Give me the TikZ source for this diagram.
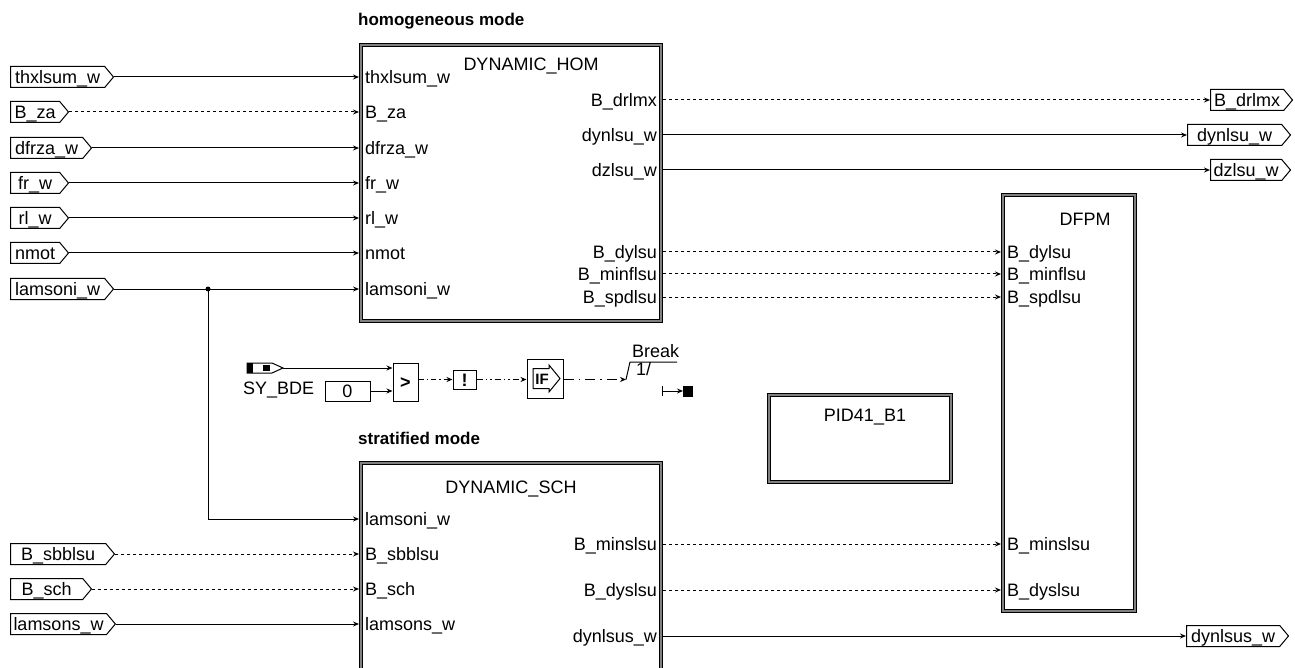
\documentclass[tikz,border=0pt]{standalone}
\usepackage{fontspec}
\setmainfont{Liberation Sans}
\usetikzlibrary{shapes.symbols,arrows.meta}
\definecolor{band}{RGB}{128,128,128}
\begin{document}
\begin{tikzpicture}[x=1pt,y=-1pt,
  txt/.style={font=\fontsize{18}{20}\selectfont, inner sep=0pt, text height=13pt, text depth=0pt},
  ttl/.style={font=\bfseries\fontsize{17}{20}\selectfont, inner sep=0pt},
  tag/.style={txt, draw, line width=1pt, signal, signal to=east, signal pointer angle=100,
              minimum height=21pt, inner xsep=3pt, inner ysep=0pt, anchor=west, fill=white},
  blk/.style={draw, line width=1pt, double=band, double distance=2pt, fill=white,
              outer sep=2pt, anchor=north west, inner sep=0pt},
  box/.style={draw, line width=1pt, fill=white, inner sep=0pt},
  wire/.style={line width=1pt},
  sig/.style={line width=1pt, -{Stealth[length=6pt,width=5pt]}},
  bsig/.style={sig, dash pattern=on 3pt off 3pt},
  dd1/.style={sig, dash pattern=on 5pt off 3pt on 1.5pt off 3pt},
  dd2/.style={sig, dash pattern=on 6pt off 3pt on 1.5pt off 3pt on 1.5pt off 3pt},
  dd3/.style={sig, dash pattern=on 10pt off 5pt on 1.5pt off 5pt},
]
\useasboundingbox (0,0) rectangle (1295,668);
\clip (0,0) rectangle (1295,668);

% ---------- blocks ----------
\node[blk, minimum width=300pt, minimum height=276pt] (hom) at (359,43) {};
\node[blk, minimum width=300pt, minimum height=260pt] (sch) at (359,461) {};
\node[blk, minimum width=132pt, minimum height=416pt] (dfpm) at (1001,193) {};
\node[blk, minimum width=182pt, minimum height=87pt] (pid) at (767,393) {};

\node[txt] (homt) at (531,64) {DYNAMIC\_HOM};
\node[txt] (scht) at (511,487) {DYNAMIC\_SCH};
\node[txt] (dfpmt) at (1085,219) {DFPM};
\node[txt] (pidt) at (865,415) {PID41\_B1};

\node[ttl, anchor=base west] (thom) at (358,26) {homogeneous mode};
\node[ttl, anchor=base west] (tsch) at (358,444) {stratified mode};

% ---------- HOM labels ----------
\node[txt, anchor=west] (hl1) at (365,77) {thxlsum\_w};
\node[txt, anchor=west] (hl2) at (365,112) {B\_za};
\node[txt, anchor=west] (hl3) at (365,148) {dfrza\_w};
\node[txt, anchor=west] (hl4) at (365,183) {fr\_w};
\node[txt, anchor=west] (hl5) at (365,218) {rl\_w};
\node[txt, anchor=west] (hl6) at (365,253) {nmot};
\node[txt, anchor=west] (hl7) at (365,289) {lamsoni\_w};
\node[txt, anchor=east] (ho1) at (657,100) {B\_drlmx};
\node[txt, anchor=east] (ho2) at (657,135) {dynlsu\_w};
\node[txt, anchor=east] (ho3) at (657,170) {dzlsu\_w};
\node[txt, anchor=east] (ho4) at (657,252) {B\_dylsu};
\node[txt, anchor=east] (ho5) at (657,274) {B\_minflsu};
\node[txt, anchor=east] (ho6) at (657,297) {B\_spdlsu};

% ---------- SCH labels ----------
\node[txt, anchor=west] (sl1) at (365,519) {lamsoni\_w};
\node[txt, anchor=west] (sl2) at (365,554) {B\_sbblsu};
\node[txt, anchor=west] (sl3) at (365,589) {B\_sch};
\node[txt, anchor=west] (sl4) at (365,624) {lamsons\_w};
\node[txt, anchor=east] (so1) at (657,544) {B\_minslsu};
\node[txt, anchor=east] (so2) at (657,590) {B\_dyslsu};
\node[txt, anchor=east] (so3) at (657,636) {dynlsus\_w};

% ---------- DFPM labels ----------
\node[txt, anchor=west] (d1) at (1007,252) {B\_dylsu};
\node[txt, anchor=west] (d2) at (1007,274) {B\_minflsu};
\node[txt, anchor=west] (d3) at (1007,297) {B\_spdlsu};
\node[txt, anchor=west] (d4) at (1007,544) {B\_minslsu};
\node[txt, anchor=west] (d5) at (1007,590) {B\_dyslsu};

% ---------- input tags ----------
\node[tag, minimum width=103pt] (i1) at (10,77) {thxlsum\_w};
\node[tag, minimum width=58pt] (i2) at (10,112) {B\_za};
\node[tag, minimum width=81pt] (i3) at (10,148) {dfrza\_w};
\node[tag, minimum width=58pt] (i4) at (10,183) {fr\_w};
\node[tag, minimum width=58pt] (i5) at (10,218) {rl\_w};
\node[tag, minimum width=58pt] (i6) at (10,253) {nmot};
\node[tag, minimum width=103pt] (i7) at (10,289) {lamsoni\_w};
\node[tag, minimum width=104pt] (i8) at (10,554) {B\_sbblsu};
\node[tag, minimum width=81pt] (i9) at (10,589) {B\_sch};
\node[tag, minimum width=104pt] (i10) at (10,624) {lamsons\_w};

% ---------- output tags ----------
\node[tag, minimum width=82pt] (o1) at (1210,100) {B\_drlmx};
\node[tag, minimum width=103pt] (o2) at (1187,135) {dynlsu\_w};
\node[tag, minimum width=80pt] (o3) at (1210,170) {dzlsu\_w};
\node[tag, minimum width=102pt] (o4) at (1186,636) {dynlsus\_w};

% ---------- HOM inputs ----------
\draw[sig]  (i1.east) -- (i1.east -| hom.west);
\draw[bsig] (i2.east) -- (i2.east -| hom.west);
\draw[sig]  (i3.east) -- (i3.east -| hom.west);
\draw[sig]  (i4.east) -- (i4.east -| hom.west);
\draw[sig]  (i5.east) -- (i5.east -| hom.west);
\draw[sig]  (i6.east) -- (i6.east -| hom.west);
\coordinate (j) at (208,289);
\draw[wire] (i7.east) -- (j);
\draw[sig]  (j) -- (j -| hom.west);
\draw[sig]  (j) |- (sch.west |- sl1.west);
\fill (j) circle (2.5pt);

% ---------- SCH inputs ----------
\draw[bsig] (i8.east) -- (i8.east -| sch.west);
\draw[bsig] (i9.east) -- (i9.east -| sch.west);
\draw[sig]  (i10.east) -- (i10.east -| sch.west);

% ---------- outputs ----------
\draw[bsig] (hom.east |- o1.west) -- (o1.west);
\draw[sig]  (hom.east |- o2.west) -- (o2.west);
\draw[sig]  (hom.east |- o3.west) -- (o3.west);
\draw[bsig] (hom.east |- d1.west) -- (dfpm.west |- d1.west);
\draw[bsig] (hom.east |- d2.west) -- (dfpm.west |- d2.west);
\draw[bsig] (hom.east |- d3.west) -- (dfpm.west |- d3.west);
\draw[bsig] (sch.east |- d4.west) -- (dfpm.west |- d4.west);
\draw[bsig] (sch.east |- d5.west) -- (dfpm.west |- d5.west);
\draw[sig]  (sch.east |- o4.west) -- (o4.west);

% ---------- break logic ----------
\draw[wire] (247,363) -- (272,363) -- (283,368) -- (272,373) -- (247,373) -- cycle;
\fill (247,363) rectangle (253,373);
\fill (263,365) rectangle (270,371);
\coordinate (sy) at (283,368);
\node[txt, anchor=base west, text height=, text depth=] (syt) at (243,394) {SY\_BDE};

\node[box, txt, minimum width=45pt, minimum height=20pt] (zero) at (347.5,391) {0};
\node[box, txt, minimum width=25pt, minimum height=38pt] (gt) at (405.5,382) {\bfseries >};
\node[box, txt, minimum width=23pt, minimum height=19pt] (nt) at (464.5,379.5) {\bfseries !};
\node[box, minimum width=36pt, minimum height=39pt] (ifb) at (545,378.5) {};
\draw[wire] (533,368.5) -- (549,368.5) -- (549,365) -- (560,378.5) -- (549,392) -- (549,388.5) -- (533,388.5) -- cycle;
\node[font=\bfseries\fontsize{15}{15}\selectfont, inner sep=0pt] (ift) at (542,379) {IF};

\draw[sig] (sy) -- (sy -| gt.west);
\draw[sig] (zero.east) -- (zero.east -| gt.west);
\draw[dd1] (gt.east |- nt.west) -- (nt.west);
\draw[dd2] (nt.east) -- (nt.east -| ifb.west);
\coordinate (brk) at (626,379.5);
\draw[dd3] (ifb.east |- brk) -- (brk);
\draw[wire] (brk) -- (630,362) -- (677,362);
\node[txt, anchor=base west, text height=, text depth=] (brkt) at (632,357) {Break};
\node[txt, anchor=base west, text height=, text depth=] (onet) at (636,375) {1/};

\coordinate (es) at (662,391);
\coordinate (ee) at (683,391);
\draw[wire] (662,386) -- (662,396);
\draw[sig] (es) -- (ee);
\fill (683,385.5) rectangle (693,396.5);
\end{tikzpicture}
\end{document}
